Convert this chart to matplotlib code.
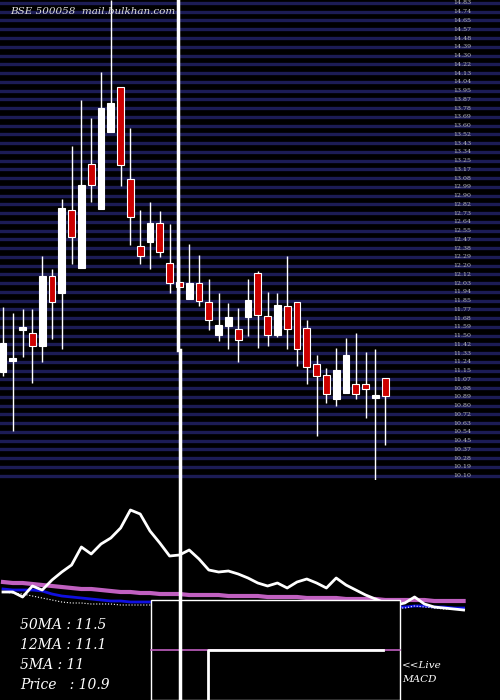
import matplotlib.pyplot as plt
import matplotlib.lines as mlines
from matplotlib.patches import Rectangle
import numpy as np

# daily candles: open, high, low, close
opens  = [11.14, 11.27, 11.57, 11.53, 11.40, 12.10, 11.93, 12.76, 12.18, 13.22,
          12.77, 13.54, 13.99, 13.07, 12.40, 12.44, 12.63, 12.23, 12.03, 11.87,
          12.03, 11.84, 11.51, 11.60, 11.57, 11.69, 12.13, 11.70, 11.51, 11.80,
          11.84, 11.58, 11.22, 11.11, 10.87, 10.93, 11.02, 11.02, 10.89, 11.08]
highs  = [11.79, 11.73, 11.77, 11.77, 12.30, 12.17, 12.87, 13.40, 13.86, 13.68,
          14.14, 14.86, 13.99, 13.58, 12.76, 12.84, 12.75, 12.62, 12.30, 12.42,
          12.31, 12.07, 11.93, 11.83, 11.78, 12.07, 12.15, 11.94, 11.93, 12.30,
          11.84, 11.66, 11.31, 11.18, 11.38, 11.48, 11.53, 11.34, 11.37, 11.08]
lows   = [11.10, 10.55, 11.29, 11.03, 11.24, 11.47, 11.37, 12.22, 12.18, 12.84,
          12.77, 13.54, 13.00, 12.41, 12.22, 12.17, 12.29, 11.93, 11.82, 11.87,
          11.80, 11.56, 11.45, 11.37, 11.24, 11.50, 11.38, 11.40, 11.49, 11.37,
          11.20, 11.02, 10.50, 10.83, 10.80, 10.93, 10.87, 10.68, 10.06, 10.41]
closes = [11.43, 11.27, 11.57, 11.40, 12.10, 11.84, 12.78, 12.49, 13.01, 13.01,
          13.78, 13.83, 13.21, 12.69, 12.30, 12.63, 12.34, 12.03, 12.01, 12.03,
          11.85, 11.66, 11.61, 11.69, 11.46, 11.86, 11.71, 11.51, 11.81, 11.57,
          11.37, 11.19, 11.10, 10.92, 11.16, 11.31, 10.92, 10.97, 10.89, 10.90]

# lower panel indicator lines (height units)
osc   = [108, 108, 103, 114, 110, 120, 128, 135, 153, 146, 156, 162, 172, 190, 186, 169,
         157, 144, 145, 150, 141, 130, 128, 129, 126, 122, 117, 114, 117, 112, 118, 121,
         117, 112, 122, 115, 110, 105, 101, 97, 95, 97, 103, 96, 93, 92, 91, 90]
ma50  = [118, 117, 117, 116, 115, 114, 113, 112, 111, 111, 110, 109, 108, 108, 107, 107,
         106, 106, 106, 105, 105, 105, 105, 104, 104, 104, 104, 103, 103, 103, 103, 102,
         102, 102, 102, 101, 101, 101, 101, 100, 100, 100, 100, 100, 99, 99, 99, 99]
ma12  = [111, 110, 110, 110, 109, 106, 104, 103, 102, 101, 100, 99, 99, 98, 98, 98,
         97, 97, 97, 96, 96, 96, 96, 96, 96, 96, 96, 95, 95, 95, 95, 95,
         95, 94, 94, 94, 94, 94, 94, 94, 93, 93, 94, 94, 93, 93, 92, 92]
ma5   = [108, 107, 106, 104, 102, 100, 98, 97, 97, 96, 96, 96, 95, 95, 95, 95,
         95, 95, 95, 95, 95, 95, 95, 96, 96, 96, 96, 96, 96, 96, 96, 95,
         95, 95, 94, 94, 93, 93, 93, 92, 92, 92, 94, 93, 92, 91, 91, 90]

label_text = ["50MA : 11.5", "12MA : 11.1", "5MA : 11", "Price   : 10.9"]

fig = plt.figure(figsize=(5, 7), dpi=100, facecolor='black')
ax = fig.add_axes([0, 220 / 700, 1, 480 / 700])
ax2 = fig.add_axes([0, 0, 1, 220 / 700])
xl = (-3 / 9.8, 497 / 9.8)
for a in (ax, ax2):
    a.set_facecolor('black')
    a.set_xlim(*xl)
    a.axis('off')
ax.set_ylim(10.06, 14.86)
ax2.set_ylim(0, 220)

# stripes + right labels
levels = np.arange(14.83, 10.06, -0.0875)
for lv in levels:
    ax.axhline(lv, color='#1c1c55', lw=2.4, zorder=0)
    ax.text(450 / 9.8, lv, '%.2f' % lv, color='#bbbbbb', fontsize=4.5,
            va='center', ha='left', family='serif')

ax.text(0.02, 0.975, 'BSE 500058  mail.bulkhan.com', transform=ax.transAxes,
        color='#dddddd', fontsize=7.5, family='serif', style='italic', va='center')

for i, (o, h, l, c) in enumerate(zip(opens, highs, lows, closes)):
    ax.vlines(i, l, h, color='white', lw=1, zorder=2)
    lo, hi = min(o, c), max(o, c)
    if hi - lo < 0.03:
        lo, hi = lo - 0.015, hi + 0.015
    fc = 'white' if c >= o else '#cc0000'
    ax.add_patch(Rectangle((i - 0.35, lo), 0.7, hi - lo, facecolor=fc,
                           edgecolor='white', lw=0.8, zorder=3))

x = np.arange(len(osc))
ax2.plot(x, ma50, color='#c060c0', lw=3, zorder=2)
ax2.plot(x, ma12, color='#1010e0', lw=2, zorder=2)
ax2.plot(x, ma5, color='white', lw=0.8, ls=':', zorder=2)
ax2.plot(x, osc, color='white', lw=2, zorder=3)

# MACD box
ax2.add_patch(Rectangle((0.302, 0), 0.498, 100 / 220, transform=ax2.transAxes,
                        facecolor='black', edgecolor='white', lw=1, zorder=4))
ax2.plot([0.302, 0.8], [50 / 220] * 2, transform=ax2.transAxes, color='#c060c0', lw=1.2, zorder=5)
ax2.plot([0.415, 0.415, 0.766], [0, 50 / 220, 50 / 220], transform=ax2.transAxes,
         color='white', lw=2, zorder=6)

for k, t in enumerate(label_text):
    ax2.text(20 / 500, (75 - k * 20) / 220, t, transform=ax2.transAxes, color='white',
             fontsize=10, family='serif', style='italic', va='center')
ax2.text(402 / 500, 35 / 220, '<<Live', transform=ax2.transAxes, color='white',
         fontsize=7.5, family='serif', style='italic', va='center')
ax2.text(402 / 500, 20 / 220, 'MACD', transform=ax2.transAxes, color='white',
         fontsize=7.5, family='serif', style='italic', va='center')

# vertical cursor line
fig.add_artist(mlines.Line2D([178 / 500] * 2, [1, 1 - 350 / 700], color='white', lw=2.5))
fig.add_artist(mlines.Line2D([180 / 500] * 2, [1 - 350 / 700, 0], color='white', lw=2.5))

fig.savefig('out.png', dpi=100, facecolor='black')
